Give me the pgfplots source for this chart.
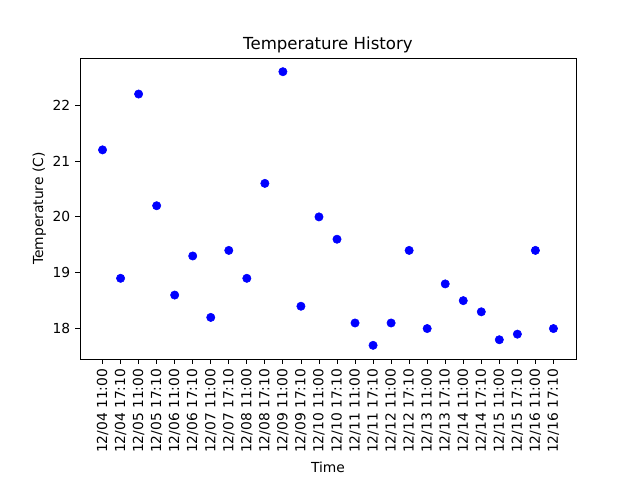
\documentclass[border=0pt]{standalone}
\usepackage{pgfplots}
\pgfplotsset{compat=1.18}
\usepackage{fontspec}
\setmainfont{DejaVu Sans}
\begin{document}
\begin{tikzpicture}
\path (0,0) rectangle (460.8bp,345.6bp);
\begin{axis}[
  at={(57.6bp,87.12bp)}, anchor=south west,
  scale only axis, width=357.1bp, height=216.7bp,
  xmin=-1.25, xmax=26.25, ymin=17.455, ymax=22.845,
  xtick={0,...,25},
  xticklabels={12/04 11:00,12/04 17:10,12/05 11:00,12/05 17:10,12/06 11:00,12/06 17:10,12/07 11:00,12/07 17:10,12/08 11:00,12/08 17:10,12/09 11:00,12/09 17:10,12/10 11:00,12/10 17:10,12/11 11:00,12/11 17:10,12/12 11:00,12/12 17:10,12/13 11:00,12/13 17:10,12/14 11:00,12/14 17:10,12/15 11:00,12/15 17:10,12/16 11:00,12/16 17:10},
  xticklabel style={rotate=90, anchor=east},
  ytick={18,19,20,21,22},
  tick align=outside, major tick length=3.5bp,
  xtick pos=bottom, ytick pos=left,
  tick style={black, line width=0.6pt},
  axis line style={line width=0.6pt},
  /pgf/number format/assume math mode=true,
  tick label style={font=\fontsize{10}{12}\selectfont},
  label style={font=\fontsize{10}{12}\selectfont},
  ylabel style={yshift=-2bp},
  title style={font=\fontsize{12}{14}\selectfont, anchor=base},
  title={Temperature History},
  xlabel={Time}, ylabel={Temperature (C)},
]
\addplot[only marks, mark=*, mark size=3bp, color=blue, mark options={draw=blue, fill=blue}] coordinates {
(0,21.2)(1,18.9)(2,22.2)(3,20.2)(4,18.6)(5,19.3)(6,18.2)(7,19.4)(8,18.9)(9,20.6)(10,22.6)(11,18.4)(12,20.0)(13,19.6)(14,18.1)(15,17.7)(16,18.1)(17,19.4)(18,18.0)(19,18.8)(20,18.5)(21,18.3)(22,17.8)(23,17.9)(24,19.4)(25,18.0)
};
\end{axis}
\end{tikzpicture}
\end{document}
